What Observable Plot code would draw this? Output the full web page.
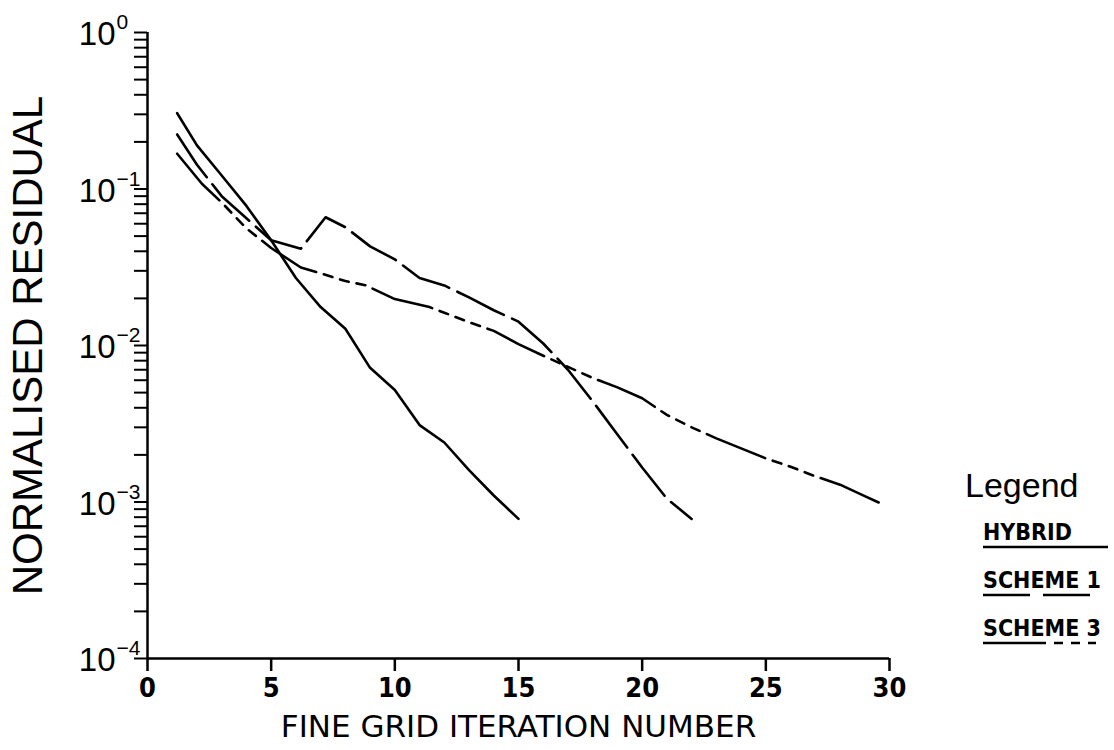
<!DOCTYPE html>
<html><head><meta charset="utf-8">
<script src="https://cdn.jsdelivr.net/npm/d3@7"></script>
<script src="https://cdn.jsdelivr.net/npm/@observablehq/plot@0.6"></script>
<style>
body{margin:0;background:#fff;}
#wrap{position:relative;width:1114px;height:750px;overflow:hidden;background:#fff;}
#wrap svg{display:block;}
</style></head><body><div id="wrap"></div>
<script>
// ---- data ----
const seriesNames = ["HYBRID", "SCHEME 1", "SCHEME 3"];
const hybridX = [1.2, 2, 3, 4, 5, 6, 7, 8, 9, 10, 11, 12, 13, 14, 15];
const hybridY = [0.305, 0.19, 0.122, 0.078, 0.047, 0.027, 0.0176, 0.0128, 0.0072, 0.0052, 0.0031, 0.0024, 0.0016, 0.0011, 0.00078];
const scheme1X = [1.2, 2, 3, 4, 5, 6.2, 7.2, 8, 9, 10, 11, 12, 13, 14, 15, 16, 17, 18, 19, 20, 21, 22];
const scheme1Y = [0.223, 0.143, 0.09, 0.065, 0.047, 0.0415, 0.066, 0.057, 0.043, 0.0355, 0.027, 0.0242, 0.0203, 0.0168, 0.0142, 0.0103, 0.0070, 0.0044, 0.0027, 0.00166, 0.00105, 0.00078];
const scheme3X = [1.2, 2.2, 3, 4, 5, 6.2, 7, 8, 8.8, 10, 11.4, 12, 13, 14, 15, 16, 17, 18, 19, 20, 21, 22, 23, 24, 25, 26, 27, 28, 29, 29.7];
const scheme3Y = [0.168, 0.108, 0.082, 0.056, 0.042, 0.0315, 0.0289, 0.0258, 0.0243, 0.0198, 0.0176, 0.0162, 0.0141, 0.0124, 0.0102, 0.0086, 0.0073, 0.0062, 0.0054, 0.0046, 0.0036, 0.0030, 0.00255, 0.0022, 0.0019, 0.00168, 0.00146, 0.00129, 0.00109, 0.00097];
const xTicks = [0, 5, 10, 15, 20, 25, 30];
const yDecades = [1, 0.1, 0.01, 0.001, 0.0001];
const yExponents = ["0", "\u22121", "\u22122", "\u22123", "\u22124"];
const yMinorMantissas = [1, 2, 3, 4, 5, 6, 7, 8, 9];
const xTitle = "FINE GRID ITERATION NUMBER";
const yTitle = "NORMALISED RESIDUAL";
const legendTitle = "Legend";

// ---- build ----
const yTicksAll = yDecades.slice(1).flatMap(d => yMinorMantissas.map(m => m * d)).concat([1]);
const dashes = [null, "52,9", "63,8,9,8,9,8,9,8"];
const xs = [hybridX, scheme1X, scheme3X];
const ys = [hybridY, scheme1Y, scheme3Y];
const series = seriesNames.map((name, k) => ({
  name, dash: dashes[k],
  rows: xs[k].map((x, i) => ({x, y: ys[k][i]}))
}));

const W = 1114, H = 750;
const condensed = "'DejaVu Sans Condensed', 'DejaVu Sans', sans-serif";
const dejavu = "'DejaVu Sans', sans-serif";
const helv = "'Liberation Sans', Arial, sans-serif";

const chart = Plot.plot({
  width: W, height: H,
  marginLeft: 147, marginRight: 225, marginTop: 32, marginBottom: 92,
  style: {fontFamily: condensed, background: "white", color: "black", overflow: "visible"},
  x: {domain: [0, 30]},
  y: {type: "log", domain: [1e-4, 1]},
  marks: [
    Plot.axisY({ticks: yTicksAll, tickSize: 13, tickFormat: () => "", strokeWidth: 2, label: null}),
    Plot.axisX({ticks: xTicks, tickSize: 13, tickPadding: 6, fontSize: 27, fontWeight: "bold",
      strokeWidth: 2.5, label: null, tickFormat: d => String(d)}),
    Plot.ruleX([0], {y1: 1e-4, y2: 1, strokeWidth: 2.5}),
    Plot.ruleY([1e-4], {x1: 0, x2: 30, strokeWidth: 2.5}),
    Plot.text(yDecades, {y: d => d, frameAnchor: "left", text: () => "10", textAnchor: "end",
      dx: -32, dy: 2, fontSize: 33, fontFamily: helv}),
    Plot.text(yDecades, {y: d => d, frameAnchor: "left", text: (d, i) => yExponents[i], textAnchor: "start",
      dx: -31, dy: -10, fontSize: 21, fontFamily: helv}),
    Plot.text([xTitle], {frameAnchor: "bottom", textAnchor: "middle", lineAnchor: "middle",
      dx: 0, dy: 69, fontSize: 31, fontFamily: dejavu}),
    Plot.text([yTitle], {frameAnchor: "left", textAnchor: "middle", lineAnchor: "middle",
      dx: -119, rotate: -90, fontSize: 42, fontFamily: helv}),
    ...series.map(s => Plot.line(s.rows, {x: "x", y: "y", stroke: "black", strokeWidth: 2.6,
      strokeDasharray: s.dash, strokeLinejoin: "round"}))
  ]
});
document.getElementById("wrap").appendChild(chart);

// ---- legend (overlay on the right) ----
const lg = d3.select("#wrap").append("svg")
  .attr("width", 160).attr("height", 200)
  .style("position", "absolute").style("left", "954px").style("top", "460px");
lg.append("text").attr("x", 11).attr("y", 37).attr("font-family", helv).attr("font-size", 34).text(legendTitle);
const itemLen = [125, 109, 113];
series.forEach((s, k) => {
  const base = 80 + k * 48;
  lg.append("text").attr("x", 29).attr("y", base).attr("font-family", condensed)
    .attr("font-weight", "bold").attr("font-size", 23).text(s.name);
  lg.append("line").attr("x1", 29).attr("x2", 29 + itemLen[k]).attr("y1", base + 7).attr("y2", base + 7)
    .attr("stroke", "black").attr("stroke-width", 2.5)
    .attr("stroke-dasharray", k === 1 ? "47,13" : s.dash);
});
</script></body></html>
